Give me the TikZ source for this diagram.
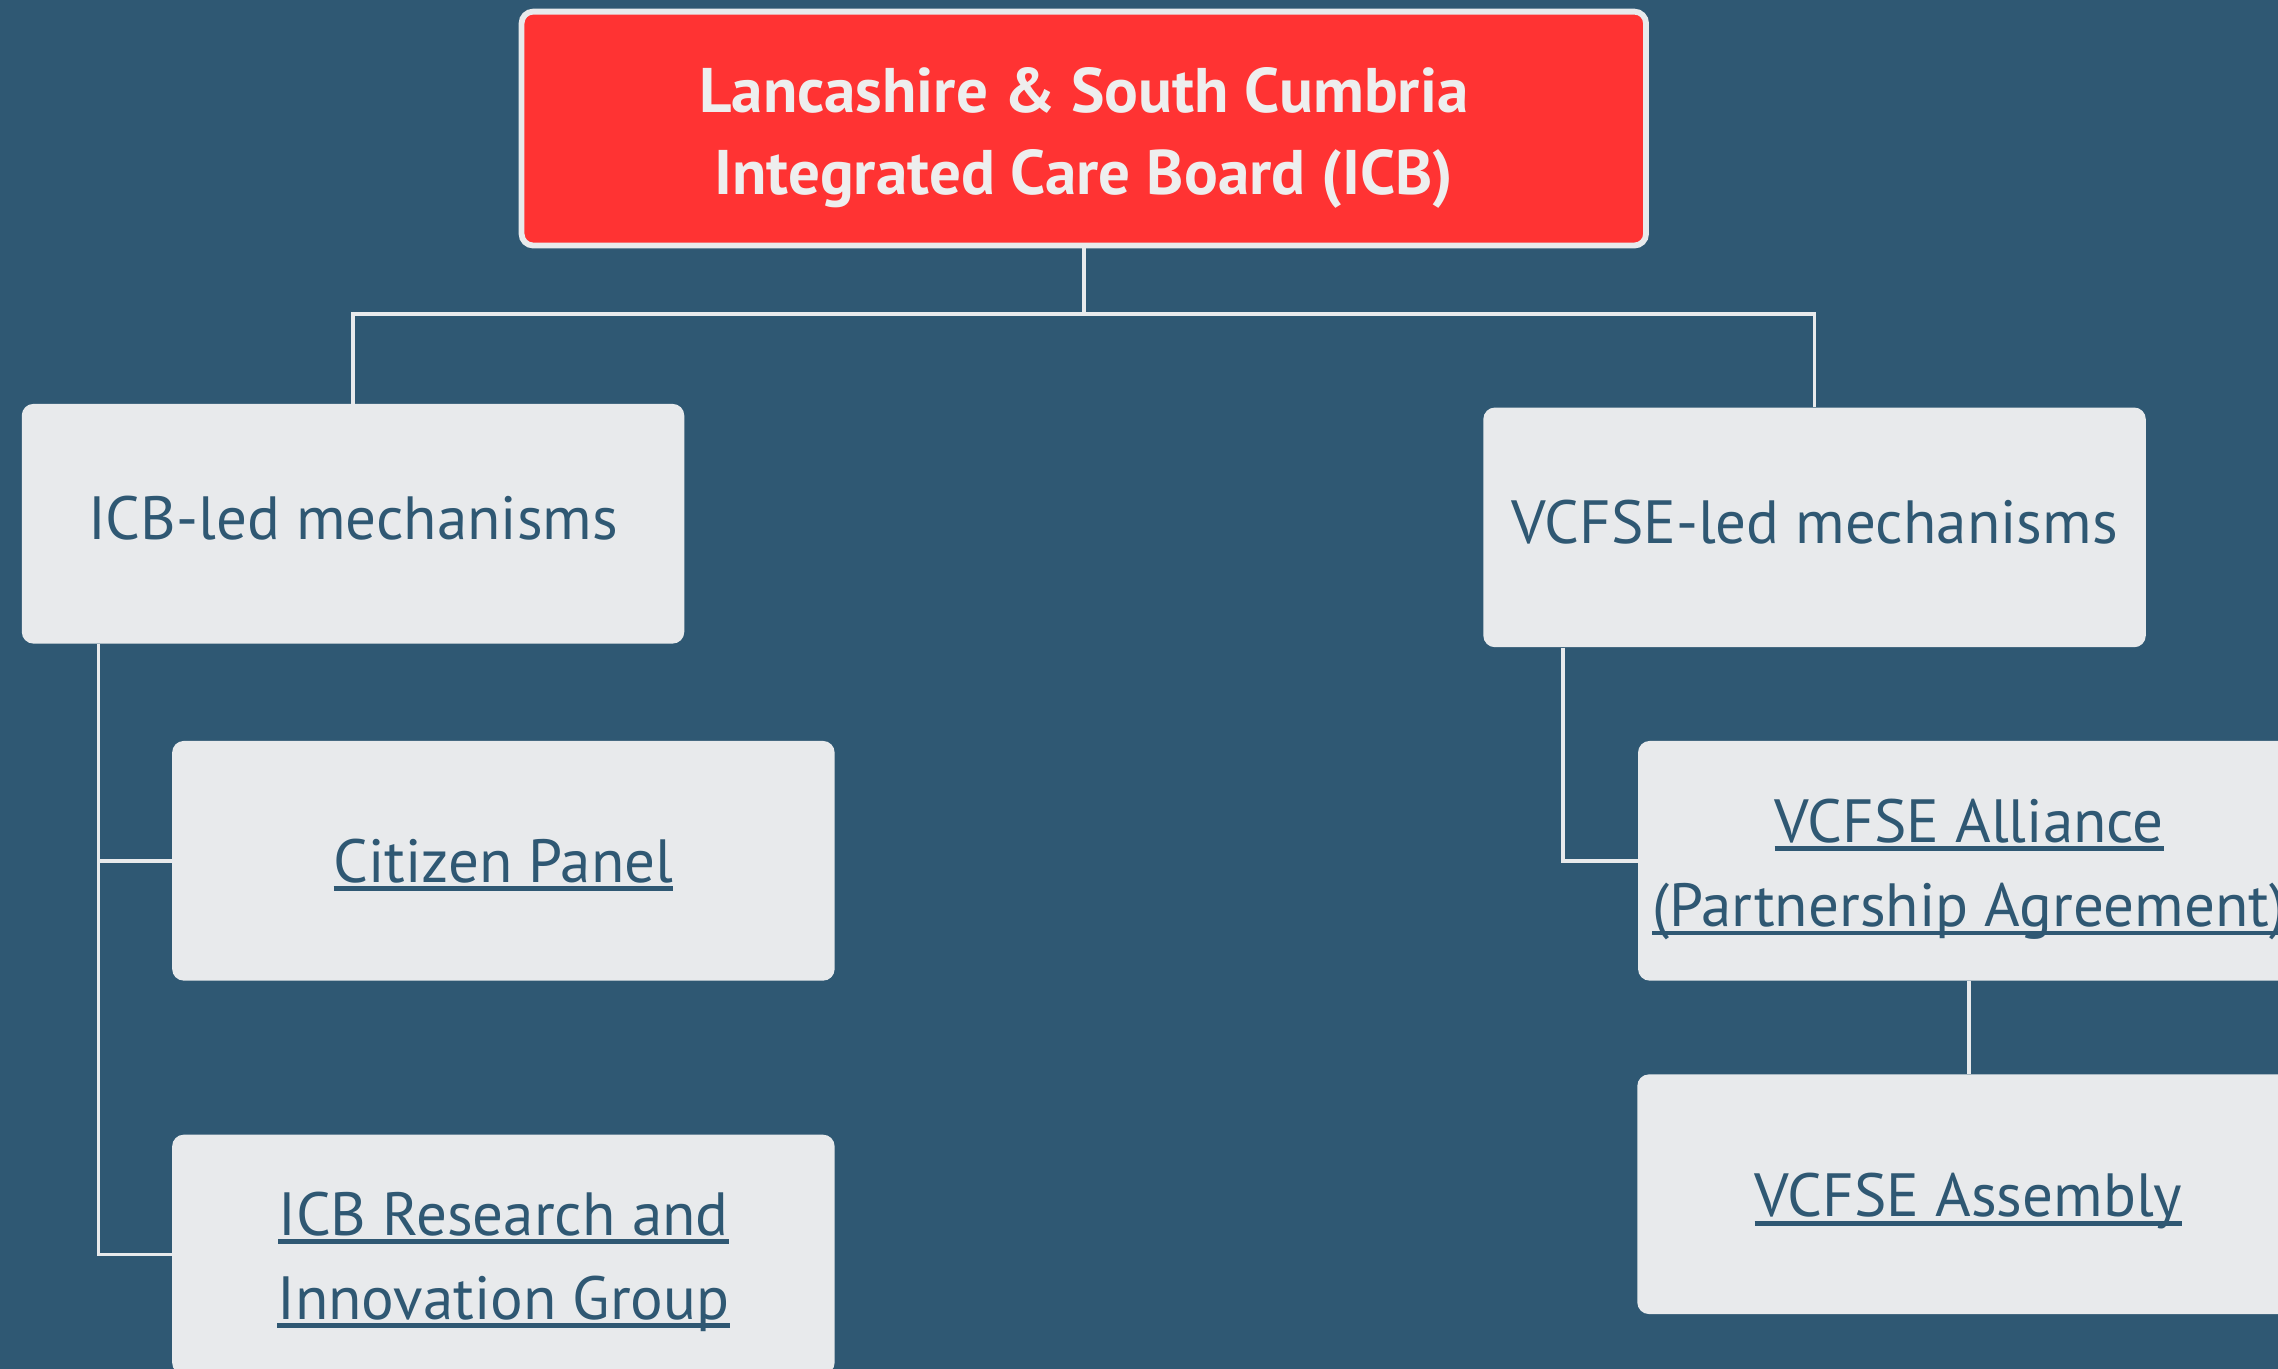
\documentclass[tikz,border=0pt]{standalone}
\usepackage{fontspec}
\setmainfont{PT Sans}
\newcommand{\myul}[1]{\begingroup\setbox0\hbox{#1}\rlap{\rule[-6pt]{\wd0}{3.3pt}}\box0\endgroup}
\definecolor{bgblue}{HTML}{2F5873}
\definecolor{boxgrey}{HTML}{E8EAEC}
\definecolor{boxred}{HTML}{FF3333}
\definecolor{toptext}{HTML}{EEEEEE}
\tikzset{
  card/.style={fill=boxgrey, rounded corners=8pt, minimum width=456pt, minimum height=165pt,
    inner sep=0pt},
  cardtext/.style={inner sep=0pt, align=center, text=bgblue, font=\fontsize{42}{58}\selectfont},
  topcard/.style={fill=boxred, draw=boxgrey, line width=4pt, rounded corners=8pt,
    minimum width=774pt, minimum height=161pt, inner sep=0pt},
  toptxt/.style={inner sep=0pt, align=center, text=toptext,
    font=\bfseries\fontsize{43.4}{57}\selectfont},
  link/.style={draw=boxgrey, line width=2.5pt}
}
\begin{document}
\begin{tikzpicture}[x=1pt,y=-1pt]
\useasboundingbox (0,0) rectangle (1568,942);
\clip (0,0) rectangle (1568,942);
\fill[bgblue] (0,0) rectangle (1568,942);

\node[topcard] (top) at (746,88.5) {};
\node[card] (icb) at (243,360.5) {};
\node[card] (vcfse) at (1249,363) {};
\node[card] (citizen) at (346.5,592.5) {};
\node[card] (research) at (346.5,863.5) {};
\node[card] (alliance) at (1355.5,592.5) {};
\node[card] (assembly) at (1355,822) {};

\node[toptxt] (ttop) at ([yshift=-6.5pt]top.center) {Lancashire \& South Cumbria\\Integrated Care Board (ICB)};
\node[cardtext] (ticb) at ([yshift=4pt]icb.center) {ICB-led mechanisms};
\node[cardtext] (tvcfse) at ([yshift=3.5pt]vcfse.center) {VCFSE-led mechanisms};
\node[cardtext] (tcitizen) at ([yshift=-3pt]citizen.center) {\myul{Citizen Panel}};
\node[cardtext] (tresearch) at ([yshift=-5pt]research.center) {\myul{ICB Research and}\\\myul{Innovation Group}};
\node[cardtext] (talliance) at ([yshift=-6pt]alliance.center) {\myul{VCFSE Alliance}\\\myul{(Partnership Agreement)}};
\node[cardtext] (tassembly) at ([yshift=-5pt]assembly.center) {\myul{VCFSE Assembly}};

\coordinate (bus) at (746,216);
\draw[link] (top.south) -- (bus);
\draw[link] (icb.north) |- (vcfse.north |- bus) -- (vcfse.north);

\coordinate (lt) at ([xshift=53pt]icb.south west);
\draw[link] (lt) |- (research.west);
\draw[link] (citizen.west) -- (citizen.west -| lt);

\coordinate (rt) at ([xshift=55pt]vcfse.south west);
\draw[link] (rt) |- (alliance.west);
\draw[link] (alliance.south) -- (alliance.south |- assembly.north);
\end{tikzpicture}
\end{document}
